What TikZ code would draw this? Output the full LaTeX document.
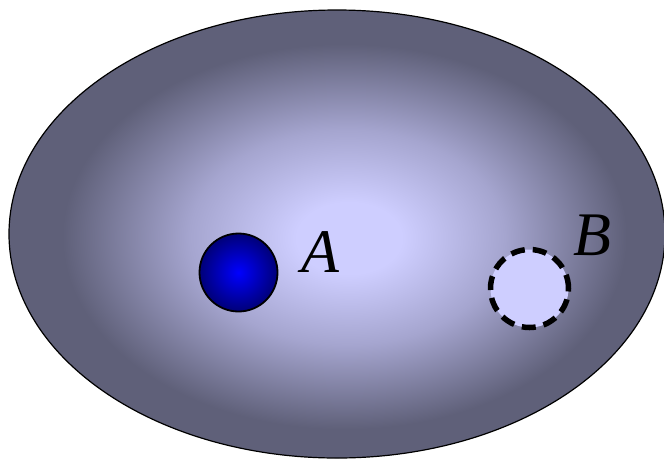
\documentclass[tikz,border=0pt]{standalone}
\usepackage{fontspec}
\setmainfont{Liberation Serif}
\definecolor{lav}{RGB}{206,206,255}
\definecolor{edgec}{RGB}{95,96,121}
\definecolor{midc}{RGB}{165,165,207}
\definecolor{ballin}{RGB}{0,0,255}
\definecolor{ballout}{RGB}{0,0,120}
\pgfdeclareradialshading{regionshade}{\pgfpoint{1bp}{-0.5bp}}{color(0bp)=(lav); color(4bp)=(lav); color(12bp)=(midc); color(21.5bp)=(edgec); color(50bp)=(edgec)}
\pgfdeclareradialshading{ballshade}{\pgfpoint{0bp}{0bp}}{color(0bp)=(ballin); color(25bp)=(ballout); color(50bp)=(ballout)}
\begin{document}
\begin{tikzpicture}[x=1pt,y=-1pt,
  region/.style={draw=black,line width=1.2pt,shading=regionshade},
  ballA/.style={circle,draw=black,line width=1.8pt,shading=ballshade,minimum size=78pt,inner sep=0pt},
  holeB/.style={circle,draw=black,fill=lav,line width=5.5pt,dash pattern=on 14pt off 8pt,minimum size=78pt,inner sep=0pt},
  lbl/.style={font=\fontsize{62}{62}\selectfont\itshape,inner sep=0pt}]
\useasboundingbox (0,0) rectangle (664,459);
\shade[region] (337,234) ellipse [x radius=328, y radius=224];
\node[ballA] (a) at (238.5,272.5) {};
\node[holeB] (b) at (529.5,288.5) {};
\node[lbl] (la) at (320,252) {A};
\node[lbl] (lb) at (592,235) {B};
\end{tikzpicture}
\end{document}
